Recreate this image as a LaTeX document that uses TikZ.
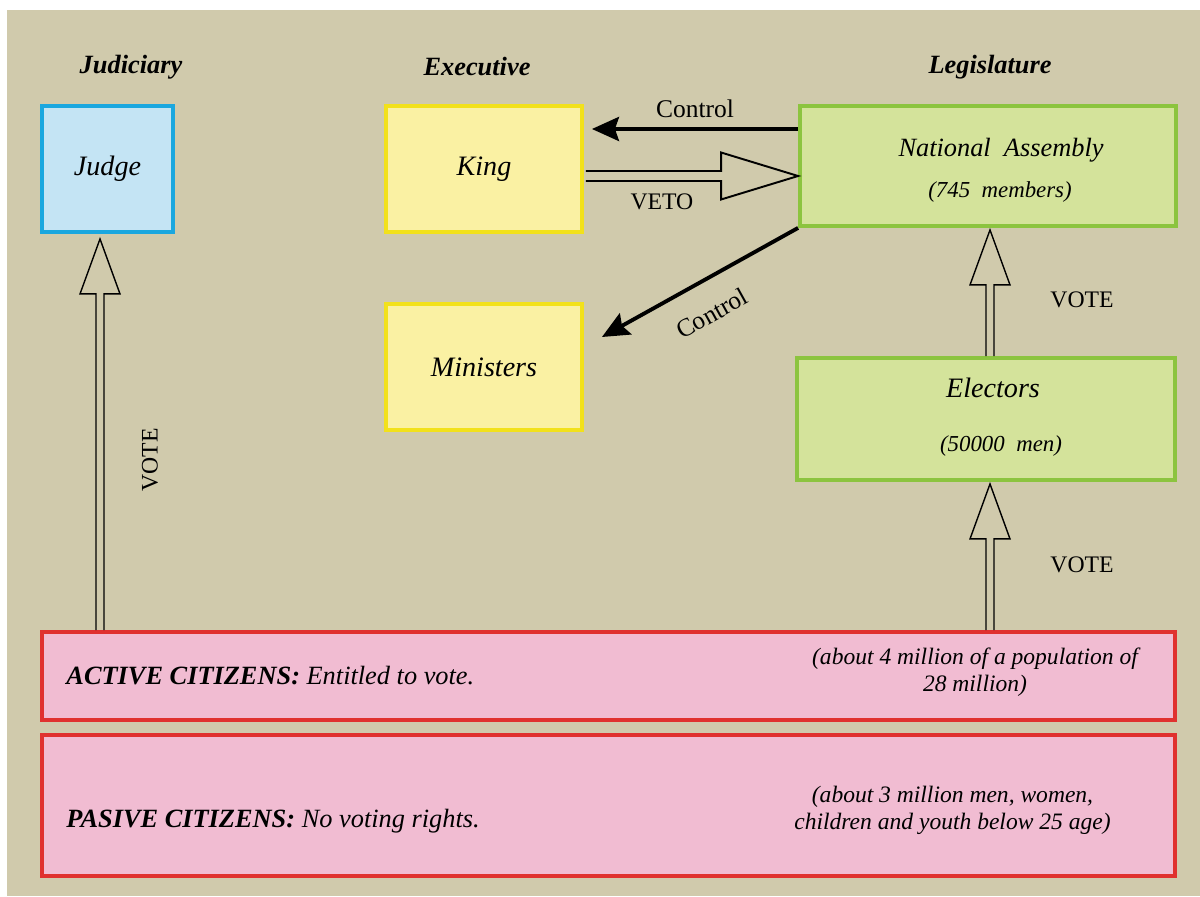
\documentclass[tikz,border=0pt]{standalone}
\usepackage{fontspec}
\setmainfont{Liberation Serif}
\usetikzlibrary{arrows.meta,calc}
\definecolor{canvas}{HTML}{D0CAAC}
\definecolor{sky}{HTML}{1AA7DF}
\definecolor{skyfill}{HTML}{C4E4F4}
\definecolor{gold}{HTML}{F2E11B}
\definecolor{goldfill}{HTML}{FAF1A3}
\definecolor{leaf}{HTML}{8CC43F}
\definecolor{leaffill}{HTML}{D4E39B}
\definecolor{rose}{HTML}{E0312F}
\definecolor{rosefill}{HTML}{F1BCD2}
\newcommand{\fsz}[1]{\fontsize{#1}{#1}\selectfont}
\newcommand{\voteup}[2]{%
  \draw[hollow] ($(#1)+(-0.08,0)$) -- ($(#2)+(-0.08,-1.1)$) -- ($(#2)+(-0.4,-1.1)$)
    -- (#2) -- ($(#2)+(0.4,-1.1)$) -- ($(#2)+(0.08,-1.1)$) -- ($(#1)+(0.08,0)$);}
\newcommand{\voteright}[2]{%
  \draw[hollow,line width=1.1pt] ($(#1)+(0,0.1)$) -- ($(#2)+(-1.54,0.1)$) -- ($(#2)+(-1.54,0.47)$)
    -- (#2) -- ($(#2)+(-1.54,-0.47)$) -- ($(#2)+(-1.54,-0.1)$) -- ($(#1)+(0,-0.1)$);}

\begin{document}
\begin{tikzpicture}[font=\fsz{16},
  box/.style={draw,line width=2.2pt,inner sep=0pt,font=\fsz{16}\itshape},
  head/.style={font=\fsz{15}\bfseries\itshape},
  lbl/.style={font=\fsz{13.5}},
  txt/.style={font=\fsz{13.4}\itshape,inner sep=0pt},
  ctrl/.style={line width=2.2pt,-{Stealth[length=0.54cm,width=0.48cm,inset=0.08cm]}},
  hollow/.style={line width=0.8pt,line join=miter}]
\useasboundingbox (0,0) rectangle (24,17.92);
\fill[canvas] (0.14,0) rectangle (24,17.72);
\node[head] (jud) at (2.62,16.58) {Judiciary};
\node[head] (exe) at (9.54,16.58) {Executive};
\node[head] (leg) at (19.8,16.58) {Legislature};
\node[box,draw=sky,fill=skyfill,minimum width=2.62cm,minimum height=2.52cm] (judge) at (2.15,14.54) {Judge};
\node[box,draw=gold,fill=goldfill,minimum width=3.92cm,minimum height=2.52cm] (king) at (9.68,14.54) {King};
\node[box,draw=gold,fill=goldfill,minimum width=3.92cm,minimum height=2.52cm] (min) at (9.68,10.58) {Ministers};
\node[box,draw=leaf,fill=leaffill,minimum width=7.52cm,minimum height=2.4cm] (na) at (19.76,14.6) {};
\node[font=\fsz{15}\itshape] (natxt) at (20.02,14.92) {National\ \ Assembly};
\node[font=\fsz{13}\itshape] (nanum) at (20.0,14.08) {(745\ \ members)};
\node[box,draw=leaf,fill=leaffill,minimum width=7.56cm,minimum height=2.44cm] (el) at (19.72,9.54) {};
\node[font=\fsz{16}\itshape] (eltxt) at (19.86,10.16) {Electors};
\node[font=\fsz{13}\itshape] (elnum) at (20.02,9.0) {(50000\ \ men)};
\node[box,draw=rose,fill=rosefill,minimum width=22.66cm,minimum height=1.76cm] (act) at (12.17,4.4) {};
\node[box,draw=rose,fill=rosefill,minimum width=22.66cm,minimum height=2.82cm] (pas) at (12.17,1.81) {};
\node[txt,font=\fsz{15}\itshape,anchor=west] (acttxt) at ([xshift=0.52cm]act.west) {\textbf{ACTIVE CITIZENS:} Entitled to vote.};
\node[txt,align=center] (actnum) at (19.5,4.48) {(about 4 million of a population of\\[2pt]28 million)};
\node[txt,font=\fsz{15}\itshape,anchor=west] (pastxt) at ([xshift=0.52cm,yshift=-0.32cm]pas.west) {\textbf{PASIVE CITIZENS:} No voting rights.};
\node[txt,align=center] (pasnum) at (19.05,1.72) {(about 3 million men, women,\\[2pt]children and youth below 25 age)};

\coordinate (c1) at ([yshift=0.74cm]na.west);
\draw[ctrl] (c1) -- ([xshift=0.16cm]king.east |- c1) node[midway,above=2pt,lbl,font=\fsz{14.5}] (ctl1) {Control};
\coordinate (k1) at ([yshift=-0.14cm,xshift=0.04cm]king.east);
\coordinate (k2) at (na.west |- k1);
\voteright{k1}{k2}
\node[lbl] (veto) at ([xshift=1.52cm,yshift=-0.52cm]k1) {VETO};
\draw[ctrl] (na.south west) -- ([xshift=0.36cm,yshift=0.6cm]min.east) node[pos=0.52,below=9pt,sloped,lbl,font=\fsz{14.5}] (ctl2) {Control};

\coordinate (v1) at ([xshift=-0.15cm,yshift=-0.1cm]judge.south);
\coordinate (v0) at (v1 |- act.north);
\voteup{v0}{v1}
\node[lbl,rotate=90] (vote1) at (3.0,8.72) {VOTE};
\coordinate (n1) at ([xshift=0.04cm,yshift=-0.04cm]na.south);
\coordinate (e1) at (n1 |- el.north);
\coordinate (e2) at ([yshift=-0.04cm]n1 |- el.south);
\coordinate (a1) at (n1 |- act.north);
\voteup{e1}{n1}
\voteup{a1}{e2}
\node[lbl] (vote2) at (21.64,11.92) {VOTE};
\node[lbl] (vote3) at (21.64,6.62) {VOTE};
\end{tikzpicture}
\end{document}
